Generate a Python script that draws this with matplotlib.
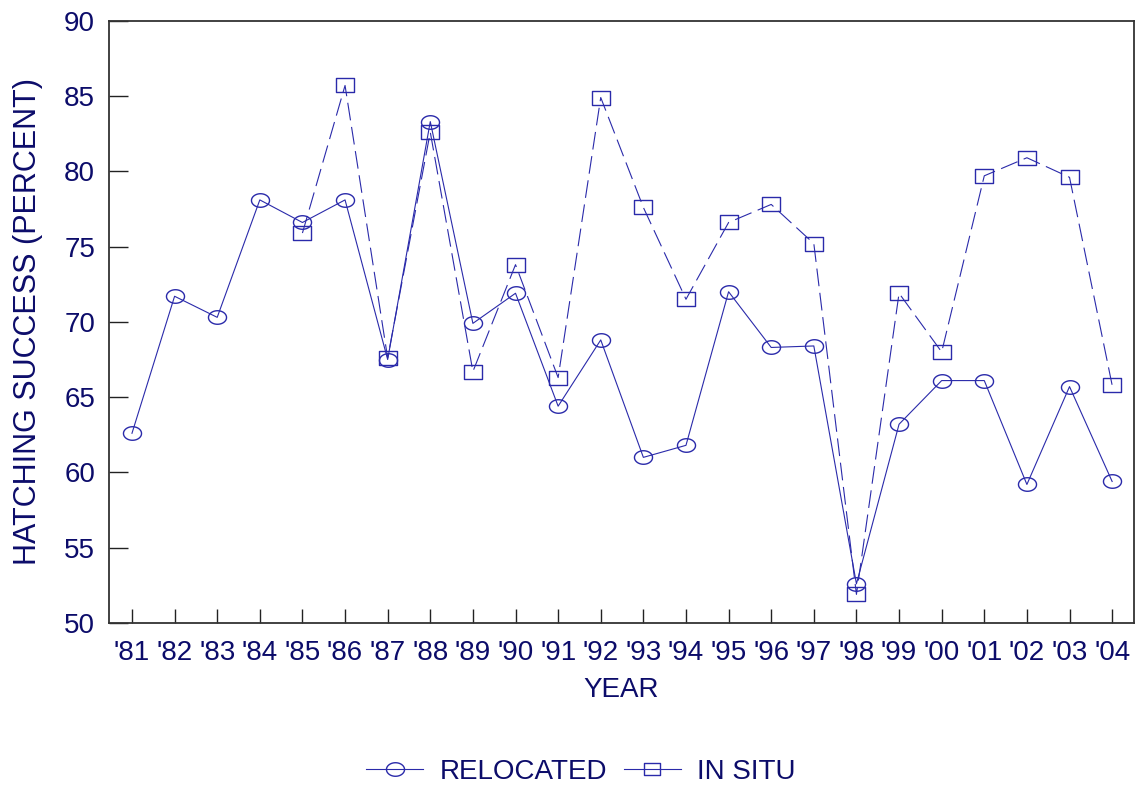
import numpy as np
import matplotlib
matplotlib.use("Agg")
import matplotlib.pyplot as plt
from matplotlib.path import Path
from matplotlib.lines import Line2D

years = ["'81", "'82", "'83", "'84", "'85", "'86", "'87", "'88", "'89", "'90", "'91", "'92",
         "'93", "'94", "'95", "'96", "'97", "'98", "'99", "'00", "'01", "'02", "'03", "'04"]

relocated = [62.6, 71.7, 70.3, 78.1, 76.6, 78.1, 67.5, 83.3, 69.9, 71.9, 64.4, 68.8,
             61.0, 61.8, 72.0, 68.3, 68.4, 52.6, 63.2, 66.1, 66.1, 59.2, 65.7, 59.4]

# in situ nests start in 1985
in_situ_years = years[4:]
in_situ = [75.9, 85.7, 67.6, 82.6, 66.7, 73.8, 66.3, 84.9, 77.6, 71.5, 76.6, 77.8,
           75.2, 51.9, 71.9, 68.0, 79.7, 80.9, 79.6, 65.8]

line_col = '#2a2aaa'
text_col = '#0c0c6a'

plt.rcParams['font.family'] = ['Liberation Sans', 'DejaVu Sans']

# ellipse / flat rectangle markers like the original software
t = np.linspace(0, 2 * np.pi, 60)
ellipse = Path(np.column_stack([np.cos(t), 0.75 * np.sin(t)]), closed=True)
rect = Path([(-1, -0.78), (1, -0.78), (1, 0.78), (-1, 0.78), (-1, -0.78)], closed=True)

fig = plt.figure(figsize=(11.35, 7.88), dpi=100)
ax = fig.add_axes([0.096, 0.2094, 0.903, 0.7643])

x_all = np.arange(len(years))
x_situ = x_all[years.index(in_situ_years[0]):]

ax.plot(x_all, relocated, color=line_col, lw=0.8, marker=ellipse, ms=13,
        mfc='none', mec=line_col, mew=1.0)
ax.plot(x_situ, in_situ, color=line_col, lw=0.8, linestyle=(0, (16, 6)), marker=rect, ms=12.5,
        mfc='none', mec=line_col, mew=1.0)

ax.set_xlim(-0.54, 23.51)
ax.set_ylim(50, 90)
ax.set_xticks(x_all)
ax.set_xticklabels(years)
ax.set_yticks(np.arange(50, 91, 5))

ax.tick_params(axis='x', direction='in', length=10, width=1, color='#222222',
               labelsize=20, labelcolor=text_col, pad=12)
ax.tick_params(axis='y', direction='in', length=14, width=1, color='#222222',
               labelsize=20, labelcolor=text_col, pad=10)
ax.tick_params(top=False, right=False)

for s in ax.spines.values():
    s.set_color('#333333')
    s.set_linewidth(1.3)

ax.set_xlabel('YEAR', fontsize=20, color=text_col, labelpad=8)
ax.set_ylabel('HATCHING SUCCESS (PERCENT)', fontsize=22, color=text_col, labelpad=15)

handles = [
    Line2D([], [], color=line_col, lw=0.8, marker=ellipse, ms=13, mfc='none', mec=line_col),
    Line2D([], [], color=line_col, lw=0.8, marker=rect, ms=11, mfc='none', mec=line_col),
]
leg = fig.legend(handles, ['RELOCATED', 'IN SITU'], loc='center', ncol=2,
                 bbox_to_anchor=(581 / 1135, 1 - 772 / 788), frameon=False, fontsize=20,
                 handlelength=2.05, handletextpad=0.6, columnspacing=0.6, labelcolor=text_col)

fig.savefig('out.png', dpi=100)
